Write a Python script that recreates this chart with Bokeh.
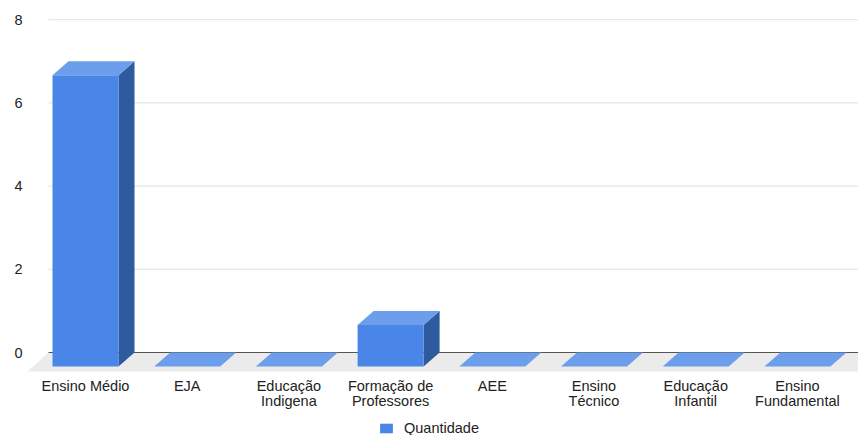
from bokeh.plotting import figure
from bokeh.models import Range1d, FixedTicker, Legend, LegendItem
from bokeh.core.properties import value
from bokeh.embed import file_html
from bokeh.resources import INLINE

# ---- data ----
categories = ["Ensino Médio", "EJA", "Educação\nIndigena", "Formação de\nProfessores",
              "AEE", "Ensino\nTécnico", "Educação\nInfantil", "Ensino\nFundamental"]
values = [7, 0, 0, 1, 0, 0, 0, 0]
y_ticks = [0, 2, 4, 6, 8]
series_name = "Quantidade"

# ---- layout constants ----
WIDTH, HEIGHT = 858, 435
B_LEFT, B_RIGHT, B_TOP, B_BOTTOM = 25, 0, 10, 0
FRAME_W = WIDTH - B_LEFT - B_RIGHT
FRAME_H = HEIGHT - B_TOP - B_BOTTOM
PX_ZERO = 352            # pixel row of the zero line
PX_PER_X, PX_PER_Y = 101.7, 41.6
X0 = -(85 - B_LEFT) / PX_PER_X
X1 = X0 + FRAME_W / PX_PER_X
Y0 = -(HEIGHT - B_BOTTOM - PX_ZERO) / PX_PER_Y
Y1 = Y0 + FRAME_H / PX_PER_Y
sx, sy = PX_PER_X, PX_PER_Y

bar_w = 66 / sx
dx, dy = 16 / sx, 14 / sy          # bar depth
fdx, fdy = 21 / sx, 19 / sy        # floor depth
grid_x0 = X0 + (48 - B_LEFT) / sx
label_y = -(377 - PX_ZERO) / sy    # top of category labels

FONT = "Liberation Sans"
FS = "14.5px"
TXT = "#222222"
FRONT, SIDE, TOP = "#4a86e8", "#2e5aa0", "#6d9eeb"

p = figure(width=WIDTH, height=HEIGHT, output_backend="svg", toolbar_location=None,
           x_range=Range1d(X0, X1), y_range=Range1d(Y0, Y1),
           min_border_left=B_LEFT, min_border_right=B_RIGHT,
           min_border_top=B_TOP, min_border_bottom=B_BOTTOM)
p.outline_line_color = None
p.background_fill_color = "white"
p.border_fill_color = "white"
p.xgrid.visible = False
p.ygrid.visible = False
p.xaxis.visible = False

# gridlines (back plane)
gt = [t for t in y_ticks if t != 0]
p.segment(x0=[grid_x0] * len(gt), x1=[X1] * len(gt), y0=gt, y1=gt,
          line_color="#e0e0e0", line_width=1)

# floor
p.patch(x=[grid_x0, X1 + 1, X1 + 1 - fdx, grid_x0 - fdx], y=[0, 0, -fdy, -fdy],
        fill_color="#ebebeb", line_color=None)
# zero line
p.segment(x0=[grid_x0], x1=[X1], y0=[0], y1=[0], line_color="#555555", line_width=1)

xs_idx = list(range(len(categories)))
lefts = [i - bar_w / 2 for i in xs_idx]
rights = [i + bar_w / 2 for i in xs_idx]

side_xs, side_ys, top_xs, top_ys = [], [], [], []
for l, r, v in zip(lefts, rights, values):
    if v > 0:
        side_xs.append([r, r + dx, r + dx, r])
        side_ys.append([-dy, 0, v, v - dy])
    top_xs.append([l, r, r + dx, l + dx])
    top_ys.append([v - dy, v - dy, v, v])

p.patches(xs=side_xs, ys=side_ys, fill_color=SIDE, line_color=None)
front = p.quad(left=lefts, right=rights, bottom=[-dy] * len(values),
               top=[v - dy for v in values], fill_color=FRONT, line_color=None)
p.patches(xs=top_xs, ys=top_ys, fill_color=TOP, line_color=None)

# category labels
p.text(x=xs_idx, y=[label_y] * len(categories), text=categories,
       text_font=value(FONT), text_font_size=FS, text_color=TXT,
       text_align="center", text_baseline="top", text_line_height=0.95)

# y axis
p.yaxis.ticker = FixedTicker(ticks=y_ticks)
p.yaxis.axis_line_color = None
p.yaxis.major_tick_line_color = None
p.yaxis.minor_tick_line_color = None
p.yaxis.major_tick_out = 0
p.yaxis.major_tick_in = 0
p.yaxis.major_label_standoff = 3
p.yaxis.major_label_text_font = FONT
p.yaxis.major_label_text_font_size = FS
p.yaxis.major_label_text_color = TXT

legend = Legend(items=[LegendItem(label=series_name, renderers=[front])],
                location=(378 - B_LEFT, -1), orientation="horizontal",
                glyph_width=16, glyph_height=12, label_height=12,
                label_standoff=10, padding=0, margin=0, border_line_color=None,
                label_text_font=FONT, label_text_font_size=FS,
                label_text_color=TXT, background_fill_alpha=0)
p.add_layout(legend, "center")

open("out.html", "w").write(file_html(p, INLINE))
